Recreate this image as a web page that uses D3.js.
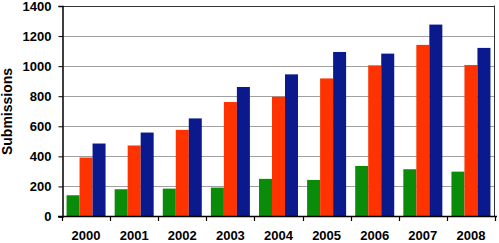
<!DOCTYPE html>
<html><head><meta charset="utf-8">
<script src="https://cdnjs.cloudflare.com/ajax/libs/d3/7.8.5/d3.min.js"></script>
<style>
html,body{margin:0;padding:0;background:#fff;}
svg{display:block;font-family:Arial,"Liberation Sans",sans-serif;}
</style></head>
<body><svg id="c" width="499" height="243"></svg>
<script>
const years = ["2000","2001","2002","2003","2004","2005","2006","2007","2008"];
const seriesNames = ["green","red","blue"];
const greenVals = [138,178,182,189,247,240,333,311,295];
const redVals = [389,469,573,758,793,915,1002,1138,1004];
const blueVals = [482,555,649,858,942,1091,1080,1273,1118];
const yTicks = [0,200,400,600,800,1000,1200,1400];
const colors = ["#0a8c0a","#ff3300","#0a1a8c"];
const yTitle = "Submissions";

const svg = d3.select("#c");
const L = 62, R = 495, B = 216, T = 5.5;
const x = d3.scaleBand().domain(years).range([L, R]).padding(0);
const xi = d3.scaleBand().domain(seriesNames).range([0, x.bandwidth()]).paddingInner(0).paddingOuter(0.35);
const y = d3.scaleLinear().domain([0,1400]).range([B, T]);
const color = d3.scaleOrdinal().domain(seriesNames).range(colors);
const data = [greenVals, redVals, blueVals];

// gridlines
svg.append("g").selectAll("line").data(yTicks.filter(d=>d>0 && d<1400)).join("line")
  .attr("x1", L).attr("x2", R).attr("y1", d=>Math.round(y(d))+0.5).attr("y2", d=>Math.round(y(d))+0.5)
  .attr("stroke", "#a0a0a0").attr("stroke-width", 1);

// bars
const g = svg.append("g");
years.forEach((yr, i) => {
  seriesNames.forEach((s, j) => {
    const v = data[j][i];
    g.append("rect")
      .attr("x", x(yr) + xi(s))
      .attr("y", y(v))
      .attr("width", xi.bandwidth())
      .attr("height", B - y(v))
      .attr("fill", color(s));
  });
});

// frame top & right
svg.append("line").attr("x1", L).attr("x2", R).attr("y1", Math.round(T)+0.5).attr("y2", Math.round(T)+0.5).attr("stroke","#333").attr("stroke-width",1);
svg.append("line").attr("x1", R-0.5).attr("x2", R-0.5).attr("y1", T).attr("y2", B).attr("stroke","#333").attr("stroke-width",1);

// y axis
const yAxis = d3.axisLeft(y).tickValues(yTicks).tickSize(4).tickPadding(7).tickFormat(d3.format("d"));
const ya = svg.append("g").attr("transform", `translate(${L+0.5},0.5)`).call(yAxis);
ya.select(".domain").attr("stroke","#000").attr("stroke-width",1.5);
ya.selectAll(".tick line").attr("stroke","#000");
ya.selectAll("text").attr("font-size", 13).attr("font-weight","bold").attr("fill","#000")
  .attr("font-family","Arial, 'Liberation Sans', sans-serif");

// x axis (ticks at band boundaries)
svg.append("line").attr("x1", L-4).attr("x2", R+2).attr("y1", B+0.5).attr("y2", B+0.5).attr("stroke","#000").attr("stroke-width",1.5);
const bounds = years.map(d => x(d)).concat([R]);
svg.append("g").selectAll("line").data(bounds).join("line")
  .attr("x1", d=>Math.round(d)+0.5).attr("x2", d=>Math.round(d)+0.5)
  .attr("y1", B).attr("y2", B+5).attr("stroke","#000").attr("stroke-width",1.2);
svg.append("g").selectAll("text").data(years).join("text")
  .attr("x", d => x(d) + x.bandwidth()/2)
  .attr("y", 240)
  .attr("text-anchor","middle")
  .attr("font-size", 13).attr("font-weight","bold").attr("fill","#000")
  .text(d=>d);

// y title
svg.append("text")
  .attr("transform","translate(11.5,111.5) rotate(-90)")
  .attr("text-anchor","middle")
  .attr("font-size", 14).attr("font-weight","bold").attr("fill","#000")
  .text(yTitle);
</script></body></html>
